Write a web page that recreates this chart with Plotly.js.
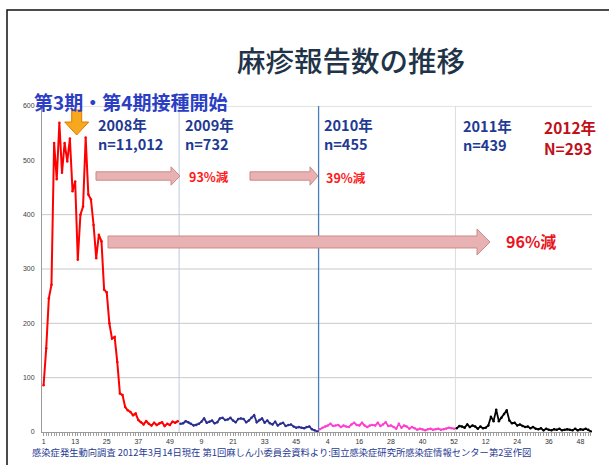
<!DOCTYPE html>
<html>
<head>
<meta charset="utf-8">
<script src="https://cdn.plot.ly/plotly-3.0.1.min.js"></script>
<style>html,body{margin:0;padding:0;background:#fff;}#chart{width:609px;height:465px;}</style>
</head>
<body>
<div id="chart"></div>
<script>
// ---- Data: weekly measles reports ----
const years = ['2008', '2009', '2010', '2011'];
const cases2008 = [86,154,246,271,532,465,569,477,532,498,540,443,461,317,400,415,542,437,428,381,320,363,351,262,257,200,172,175,129,71,68,46,40,37,31,34,22,18,14,20,15,12,17,13,16,18,11,15,13,19,17,20];
const cases2009 = [15,16,20,18,15,12,13,15,19,25,17,19,21,16,18,25,26,22,23,26,21,18,24,25,24,18,21,26,31,18,22,25,17,21,16,14,19,12,15,17,11,13,14,10,8,9,8,7,9,10,5,3,1];
const cases2010 = [5,8,10,12,15,11,12,13,9,12,10,9,14,17,13,12,17,12,9,12,13,12,17,11,14,18,11,12,9,6,15,8,12,10,6,9,7,4,6,5,3,5,6,4,5,6,4,5,6,8,7,6];
const cases2011 = [7,11,10,8,14,9,12,10,6,10,7,8,12,28,20,41,20,26,33,40,21,16,17,12,14,11,9,10,7,9,6,5,7,3,6,4,3,5,4,6,3,4,5,4,3,6,3,5,4,6,4,1];
const seriesColors = ['#FF0000', '#2B2F8F', '#FF3FD0', '#000000'];
const tickText = ['1','13','25','37','49','9','21','33','45','4','16','28','40','52','12','24','36','48'];
const yTicks = [0,100,200,300,400,500,600];
const yearLabels = ['2008年','2009年','2010年','2011年'];
const yearCounts = ['n=11,012','n=732','n=455','n=439'];
const label2012 = ['2012年','N=293'];
const reductions = ['93%減','39%減','96%減'];
const titleText = '麻疹報告数の推移';
const campaignText = '第3期・第4期接種開始';
const sourceText = '感染症発生動向調査 2012年3月14日現在 第1回麻しん小委員会資料より:国立感染症研究所感染症情報センター第2室作図';

// ---- Build traces on a continuous week index ----
const allSeries = [cases2008, cases2009, cases2010, cases2011];
const traces = [];
let offset = 0;
const boundaries = [];
allSeries.forEach((vals, i) => {
  const xs = vals.map((_, k) => offset + k);
  traces.push({
    x: xs, y: vals, type: 'scatter', mode: 'lines+markers', name: years[i],
    line: {color: seriesColors[i], width: i === 0 ? 2 : 1.8},
    marker: {size: 2.5, color: seriesColors[i]},
    hoverinfo: 'skip'
  });
  offset += vals.length;
  if (i < allSeries.length - 1) boundaries.push(offset - 0.5);
});
const tickVals = tickText.map((_, i) => i * 12);

// ---- Pixel helpers for decorations ----
const W = 609, H = 465;
const L = 42, R = 592, T = 106, B = 432;
const px = x => (x - L) / (R - L);
const py = y => (B - y) / (B - T);

function rightArrow(x1, xh, xt, yc, bh, hh, fill, line) {
  const p = [[x1, yc - bh], [xh, yc - bh], [xh, yc - hh], [xt, yc], [xh, yc + hh], [xh, yc + bh], [x1, yc + bh]];
  return {type: 'path', xref: 'paper', yref: 'paper', layer: 'above',
    path: 'M ' + p.map(q => px(q[0]).toFixed(5) + ',' + py(q[1]).toFixed(5)).join(' L ') + ' Z',
    fillcolor: fill, line: {color: line, width: 1}};
}
function downArrow(xc, ytop, yh, ytip, bw, hw) {
  const p = [[xc - bw, ytop], [xc + bw, ytop], [xc + bw, yh], [xc + hw, yh], [xc, ytip], [xc - hw, yh], [xc - bw, yh]];
  return {type: 'path', xref: 'paper', yref: 'paper', layer: 'above',
    path: 'M ' + p.map(q => px(q[0]).toFixed(5) + ',' + py(q[1]).toFixed(5)).join(' L ') + ' Z',
    fillcolor: '#F6A81E', line: {color: '#E07A00', width: 1}};
}

const shapes = [];
// horizontal gridlines (500 line hidden in reference)
[100,200,300,400,600].forEach(v => shapes.push({type:'line', xref:'paper', yref:'y', x0:0, x1:1, y0:v, y1:v, layer:'below', line:{color:'#C8C8C8', width:1}}));
// year boundary lines
const boundaryColors = ['#BCC8E0', '#4A7EBB', '#DCDCDC'];
boundaries.forEach((b, i) => shapes.push({type:'line', xref:'x', yref:'y', x0:b, x1:b, y0:0, y1:600, layer:'below', line:{color:boundaryColors[i], width: i === 1 ? 1.3 : 1}}));
// slide frame
shapes.push({type:'rect', xref:'paper', yref:'paper', x0:px(7), x1:px(640), y0:py(10), y1:py(500), layer:'above', fillcolor:'rgba(0,0,0,0)', line:{color:'#111', width:1.5}});
// arrows
const arrowFill = '#E8B2B2', arrowLine = '#CC8A8A';
shapes.push(rightArrow(96, 171, 180, 176, 4.2, 9.2, arrowFill, arrowLine));
shapes.push(rightArrow(250, 310, 318, 176, 4.2, 9.2, arrowFill, arrowLine));
shapes.push(rightArrow(108, 477, 490, 242, 6, 13, arrowFill, arrowLine));
shapes.push(downArrow(76.7, 110, 122, 135, 5, 12));

const jp = '"Noto Sans CJK JP", "Noto Sans", sans-serif';
const navy = '#1F3A93';
function ann(text, x, y, size, color, bold, anchor) {
  return {text: bold ? '<b>' + text + '</b>' : text, xref:'paper', yref:'paper', x: px(x), y: py(y),
    xanchor: anchor || 'left', yanchor: 'middle', align: 'left', showarrow: false, borderpad: 0,
    font: {family: jp, size: size, color: color}};
}
const annotations = [
  ann(campaignText, 33, 101, 19, '#2B3EC4', true),
  ann(yearLabels[0] + '<br>' + yearCounts[0], 97, 134, 14.5, navy, true),
  ann(yearLabels[1] + '<br>' + yearCounts[1], 184, 134, 14.5, navy, true),
  ann(yearLabels[2] + '<br>' + yearCounts[2], 323, 134, 14.5, navy, true),
  ann(yearLabels[3] + '<br>' + yearCounts[3], 462, 135, 14.5, navy, true),
  ann(label2012[0], 543, 127, 15.5, '#C0101A', true),
  ann(label2012[1], 543, 148, 15.5, '#C0101A', true),
  ann(reductions[0], 188, 176, 12.5, '#FF1A1A', true),
  ann(reductions[1], 325, 177, 12.5, '#FF1A1A', true),
  ann(reductions[2], 505, 241, 16, '#E8141E', true),
  ann(sourceText, 31, 452, 9.3, navy, false)
];

const layout = {
  width: W, height: H,
  margin: {l: L, r: W - R, t: T, b: H - B, pad: 0},
  paper_bgcolor: '#fff', plot_bgcolor: '#fff',
  showlegend: false,
  title: {text: titleText, x: 351 / W, xref: 'container', xanchor: 'center', y: 1 - 62 / H, yref: 'container', yanchor: 'middle',
    font: {family: jp, size: 28.5, color: '#1F3448', weight: 500}},
  xaxis: {range: [-0.6, 208.4], tickmode: 'array', tickvals: tickVals, ticktext: tickText,
    showgrid: false, zeroline: false, showline: true, linecolor: '#9A9A9A', linewidth: 1,
    ticks: 'outside', ticklen: 3, tickcolor: '#9A9A9A',
    minor: {tickmode: 'linear', tick0: 0, dtick: 1, ticks: 'outside', ticklen: 3, tickcolor: '#A0A0A0', showgrid: false},
    tickfont: {family: 'Liberation Sans, Arial, sans-serif', size: 7, color: '#333'}},
  yaxis: {range: [0, 600], tickmode: 'array', tickvals: yTicks, showgrid: false, zeroline: false,
    showline: true, linecolor: '#9A9A9A', linewidth: 1, ticks: '', ticklabelstandoff: 5,
    tickfont: {family: 'Liberation Sans, Arial, sans-serif', size: 7, color: '#404040'}},
  shapes: shapes,
  annotations: annotations
};
Plotly.newPlot('chart', traces, layout, {staticPlot: true, displayModeBar: false});
</script>
</body>
</html>
